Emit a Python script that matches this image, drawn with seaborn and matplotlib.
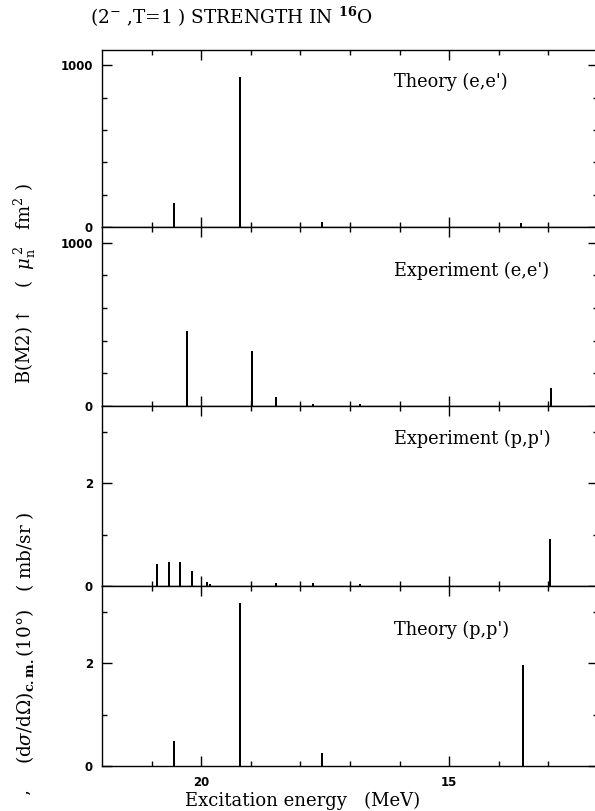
import numpy as np
import pandas as pd
import seaborn as sns
import matplotlib.pyplot as plt

sns.set_theme(style="ticks")
plt.rcParams['font.family'] = ['DejaVu Serif']
plt.rcParams['mathtext.fontset'] = 'dejavuserif'
for k in ['text.color', 'axes.labelcolor', 'xtick.color', 'ytick.color', 'axes.edgecolor']:
    plt.rcParams[k] = 'black'

# excitation energies (MeV) and strengths
theory_ee_energy = [20.54, 19.22, 17.56, 13.55]
theory_ee_bm2 = [148, 926, 30, 25]

exp_ee_energy = [20.28, 18.97, 18.49, 17.74, 16.79, 12.94]
exp_ee_bm2 = [460, 339, 57, 15, 10, 112]

exp_pp_energy = [20.89, 20.64, 20.42, 20.19, 19.89, 19.82, 18.49, 17.74, 16.79, 12.96]
exp_pp_xs = [0.42, 0.47, 0.47, 0.29, 0.08, 0.04, 0.05, 0.05, 0.04, 0.91]

theory_pp_energy = [20.54, 19.22, 17.56, 13.51]
theory_pp_xs = [0.49, 3.16, 0.25, 1.96]

panels = [
    ("Theory (e,e')", theory_ee_energy, theory_ee_bm2, "bm2"),
    ("Experiment (e,e')", exp_ee_energy, exp_ee_bm2, "bm2"),
    ("Experiment (p,p')", exp_pp_energy, exp_pp_xs, "xs"),
    ("Theory (p,p')", theory_pp_energy, theory_pp_xs, "xs"),
]

W, H = 595, 811
fig = plt.figure(figsize=(W / 100, H / 100), dpi=100)

edges = [(50, 227), (227, 406), (406, 586), (586, 766)]
label_y = [0.82, 0.755, 0.815, 0.755]
left_px, right_px = 102, 598

tick_font = dict(family='DejaVu Sans', weight='bold', size=8.5)

for i, ((name, energy, vals, kind), (t, b)) in enumerate(zip(panels, edges)):
    ax = fig.add_axes([left_px / W, 1 - b / H, (right_px - left_px) / W, (b - t) / H])
    df = pd.DataFrame({"energy": energy, "value": vals})
    spacing = np.min(np.diff(np.sort(df["energy"].values)))
    sns.barplot(data=df, x="energy", y="value", native_scale=True,
                width=0.042 / spacing, color="black", edgecolor="black",
                linewidth=0, saturation=1, ax=ax)
    ax.set_xlim(22, 12)
    if kind == "bm2":
        ax.set_ylim(0, 1095)
        ax.set_yticks([0, 1000])
        ax.set_yticks(np.arange(200, 1000, 200), minor=True)
    else:
        ax.set_ylim(0, 3.5)
        ax.set_yticks([0, 2])
        ax.set_yticks([1, 3], minor=True)
    ax.set_xticks([20, 15])
    ax.set_xticks(np.arange(13, 22, 1), minor=True)
    ax.tick_params(which='both', direction='in', top=True, right=True,
                   width=1.0, color='black')
    ax.tick_params(axis='y', which='major', length=7, pad=6.5)
    ax.tick_params(axis='x', which='major', length=7, pad=7)
    ax.tick_params(which='minor', length=3.5)
    for lab in ax.get_yticklabels():
        lab.set(**tick_font)
    if i < 3:
        ax.set_xticklabels([])
    else:
        for lab in ax.get_xticklabels():
            lab.set(**tick_font)
    ax.set_xlabel("")
    ax.set_ylabel("")
    for sp in ax.spines.values():
        sp.set_linewidth(1.0)
    ax.text(0.588, label_y[i], name, transform=ax.transAxes, fontsize=12.8,
            ha='left', va='center')

fig.text(90 / W, 1 - 17 / H, r"(2$^{-}$ ,T=1 ) STRENGTH IN $^{\mathbf{16}}$O",
         fontsize=13.3, ha='left', va='center')
fig.text(185 / W, 1 - 801 / H, "Excitation energy   (MeV)", fontsize=13,
         ha='left', va='center')
fig.text(25 / W, 1 - 284 / H,
         r"B(M2)$\uparrow$   (  $\mu_{\rm n}^{\,2}$   fm$^{2}$ )",
         fontsize=13, rotation=90, ha='center', va='center')
fig.text(25 / W, 1 - 638 / H,
         r"(d$\sigma$/d$\Omega$)$_{\bf c.m.}$(10°)   ( mb/sr )",
         fontsize=13.2, rotation=90, ha='center', va='center')
fig.text(25 / W, 1 - 792 / H, ",", fontsize=9, weight='bold', rotation=90,
         ha='center', va='center')

fig.savefig("out.png", dpi=100)
